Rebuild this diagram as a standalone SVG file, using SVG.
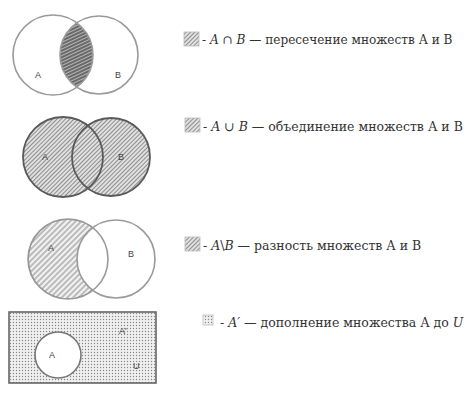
<svg xmlns="http://www.w3.org/2000/svg" width="472" height="401" viewBox="0 0 472 401">
<style>
.c{fill:none;stroke:#9a9a9a;stroke-width:1.6}
.cd{fill:none;stroke:#5a5a5a;stroke-width:1.8}
.lb{font-family:"Liberation Sans",Arial,sans-serif;font-size:9px;fill:#444}
.tx{font-family:"DejaVu Serif","Liberation Serif",serif;font-size:12.5px;fill:#333}
.it{font-style:italic}
.sw{stroke:#bbb;stroke-width:0.8}
</style>
<defs>
<pattern id="hd" width="3" height="3" patternUnits="userSpaceOnUse" patternTransform="rotate(-25)">
<rect width="3" height="3" fill="#6a6a6a"/>
<line x1="0" y1="1.5" x2="3" y2="1.5" stroke="#c8c8c8" stroke-width="0.8"/>
</pattern>
<pattern id="h45" width="3" height="3" patternUnits="userSpaceOnUse" patternTransform="rotate(-45)">
<rect width="3" height="3" fill="#e0e0e0"/>
<line x1="0" y1="1.5" x2="3" y2="1.5" stroke="#858585" stroke-width="0.9"/>
</pattern>
<pattern id="h45s" width="4" height="4" patternUnits="userSpaceOnUse" patternTransform="rotate(-45)">
<rect width="4" height="4" fill="#f2f2f2"/>
<line x1="0" y1="2" x2="4" y2="2" stroke="#777" stroke-width="0.9"/>
</pattern>
<pattern id="dt" width="3" height="3" patternUnits="userSpaceOnUse">
<rect width="3" height="3" fill="#f0f0f0"/>
<circle cx="1.5" cy="1.5" r="0.7" fill="#888"/>
</pattern>
<clipPath id="cpB1"><circle cx="99" cy="55" r="39"/></clipPath>
<mask id="mD">
<rect width="472" height="401" fill="#000"/>
<circle cx="68" cy="259" r="40" fill="#fff"/>
<circle cx="116" cy="259" r="39" fill="#000"/>
</mask>
</defs>

<g id="intersection">
<circle cx="53" cy="55" r="40" fill="url(#hd)" clip-path="url(#cpB1)"/>
<circle class="c" cx="53" cy="55" r="40"/>
<circle class="c" cx="99" cy="55" r="39"/>
<text class="lb" x="35" y="78">A</text>
<text class="lb" x="115" y="78">B</text>
</g>

<g id="union">
<circle cx="63" cy="157" r="40" fill="url(#h45)"/>
<circle cx="111" cy="157" r="39" fill="url(#h45)"/>
<circle class="cd" cx="63" cy="157" r="40"/>
<circle class="cd" cx="111" cy="157" r="39"/>
<text class="lb" x="42" y="160">A</text>
<text class="lb" x="118" y="160">B</text>
</g>

<g id="difference">
<circle cx="68" cy="259" r="40" fill="url(#h45s)" mask="url(#mD)"/>
<circle cx="68" cy="259" r="40" fill="none" stroke="#777" stroke-width="1.6" mask="url(#mD)"/>
<circle class="c" cx="68" cy="259" r="40" stroke="#aaa"/>
<circle class="c" cx="116" cy="259" r="39"/>
<text class="lb" x="48" y="251">A</text>
<text class="lb" x="128" y="257">B</text>
</g>

<g id="complement">
<rect x="9" y="312" width="147" height="71" fill="url(#dt)" stroke="#666" stroke-width="1.6"/>
<circle cx="58" cy="355" r="23" fill="#fff" stroke="#777" stroke-width="1.6"/>
<text class="lb" x="49" y="358">A</text>
<text class="lb" x="119" y="334">A'</text>
<text class="lb" x="133" y="369">U</text>
</g>

<g id="legend">
<rect class="sw" x="184" y="32" width="15" height="14" fill="url(#h45)"/>
<text class="tx" x="202" y="44" style="font-size:12.1px">- <tspan class="it">A</tspan> ∩ <tspan class="it">B</tspan> — пересечение множеств А и В</text>
<rect class="sw" x="185" y="118" width="15" height="14" fill="url(#h45)"/>
<text class="tx" x="203" y="131">- <tspan class="it">A</tspan> ∪ <tspan class="it">B</tspan> — объединение множеств А и В</text>
<rect class="sw" x="185" y="237" width="15" height="14" fill="url(#h45)"/>
<text class="tx" x="203" y="250">- <tspan class="it">A</tspan>\<tspan class="it">B</tspan> — разность множеств А и В</text>
<rect class="sw" x="203" y="315" width="10" height="10" fill="url(#dt)"/>
<text class="tx" x="220" y="327">- <tspan class="it">A′</tspan> — дополнение множества А до <tspan class="it">U</tspan></text>
</g>
</svg>
